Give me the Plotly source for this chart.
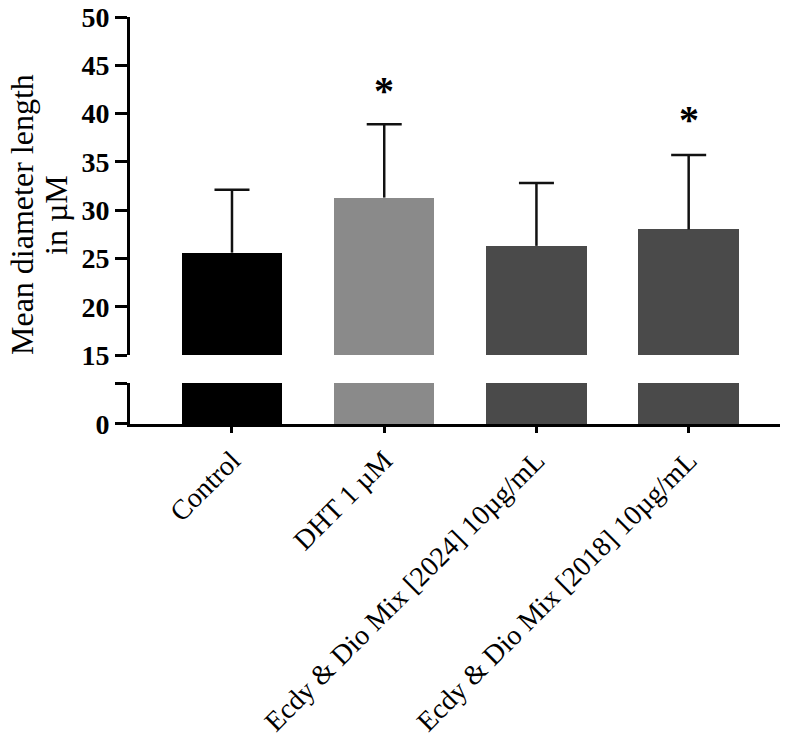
import plotly.graph_objects as go

categories = ["Control", "DHT 1 µM", "Ecdy & Dio Mix [2024] 10µg/mL", "Ecdy & Dio Mix [2018] 10µg/mL"]
means = [25.6, 31.3, 26.3, 28.0]
errors = [6.5, 7.6, 6.5, 7.7]
colors = ["#000000", "#8a8a8a", "#4a4a4a", "#4a4a4a"]
star_labels = ["", "*", "", "*"]
star_y = [None, 42.6, None, 39.6]

upper_ticks = [15, 20, 25, 30, 35, 40, 45, 50]
lower_top = 4.24
title_lines = ["Mean diameter length", "in µM"]

FONT = "Liberation Serif"
xpos = list(range(len(categories)))

fig = go.Figure()

# upper segment bars
fig.add_trace(go.Bar(
    x=xpos, y=means, width=0.66,
    marker=dict(color=colors, line=dict(width=0)),
    xaxis="x", yaxis="y", showlegend=False,
))
# lower segment bars
fig.add_trace(go.Bar(
    x=xpos, y=means, width=0.66,
    marker=dict(color=colors, line=dict(width=0)),
    xaxis="x", yaxis="y2", showlegend=False,
))

# error bar stems (upward only) and caps
stem_x, stem_y = [], []
for i, m, e in zip(xpos, means, errors):
    stem_x += [i, i, None]
    stem_y += [m, m + e, None]
fig.add_trace(go.Scatter(
    x=stem_x, y=stem_y, mode="lines",
    line=dict(color="#111111", width=2.5),
    xaxis="x", yaxis="y", showlegend=False, hoverinfo="skip",
))
fig.add_trace(go.Scatter(
    x=xpos, y=[m + e for m, e in zip(means, errors)], mode="markers",
    marker=dict(symbol="line-ew", size=25, line=dict(color="#111111", width=2.5)),
    xaxis="x", yaxis="y", showlegend=False, hoverinfo="skip",
))

for i, lab in enumerate(star_labels):
    if lab:
        fig.add_annotation(x=xpos[i], y=star_y[i], xref="x", yref="y",
                           text="<b>" + lab + "</b>", showarrow=False,
                           font=dict(family=FONT, size=40, color="#000"),
                           yshift=-2)

for line, xs in zip(title_lines, [-108, -74]):
    fig.add_annotation(
        x=0, y=0.5135, xref="paper", yref="paper", xshift=xs,
        text=line, textangle=-90, showarrow=False,
        xanchor="center", yanchor="middle",
        font=dict(family=FONT, size=32, color="#000"),
    )

fig.update_layout(
    width=800, height=736,
    margin=dict(l=130, r=20, t=17, b=312),
    paper_bgcolor="white", plot_bgcolor="white",
    bargap=0,
    xaxis=dict(
        anchor="y2", range=[-0.67, 3.6], automargin=False,
        tickmode="array", tickvals=xpos, ticktext=categories,
        tickangle=-45, ticks="outside", ticklen=6, tickwidth=3, tickcolor="#000",
        showline=True, linewidth=3, linecolor="#000",
        showgrid=False, zeroline=False,
        tickfont=dict(family=FONT, size=28, color="#000"),
    ),
    yaxis=dict(
        domain=[0.1695, 1], range=[15, 50], anchor="x", automargin=False,
        tickmode="array", tickvals=upper_ticks,
        ticktext=[f"<b>{t}</b>" for t in upper_ticks],
        ticks="outside", ticklen=12, tickwidth=3, tickcolor="#000",
        showline=True, linewidth=3, linecolor="#000",
        showgrid=False, zeroline=False,
        tickfont=dict(family=FONT, size=28, color="#000"),
    ),
    yaxis2=dict(
        domain=[0, 0.1007], range=[0, lower_top], anchor="x", automargin=False,
        tickmode="array", tickvals=[0, lower_top * 0.999], ticktext=["<b>0</b>", ""],
        ticks="outside", ticklen=12, tickwidth=3, tickcolor="#000",
        showline=True, linewidth=3, linecolor="#000",
        showgrid=False, zeroline=False,
        tickfont=dict(family=FONT, size=28, color="#000"),
    ),
)

fig.write_html("out.html")
